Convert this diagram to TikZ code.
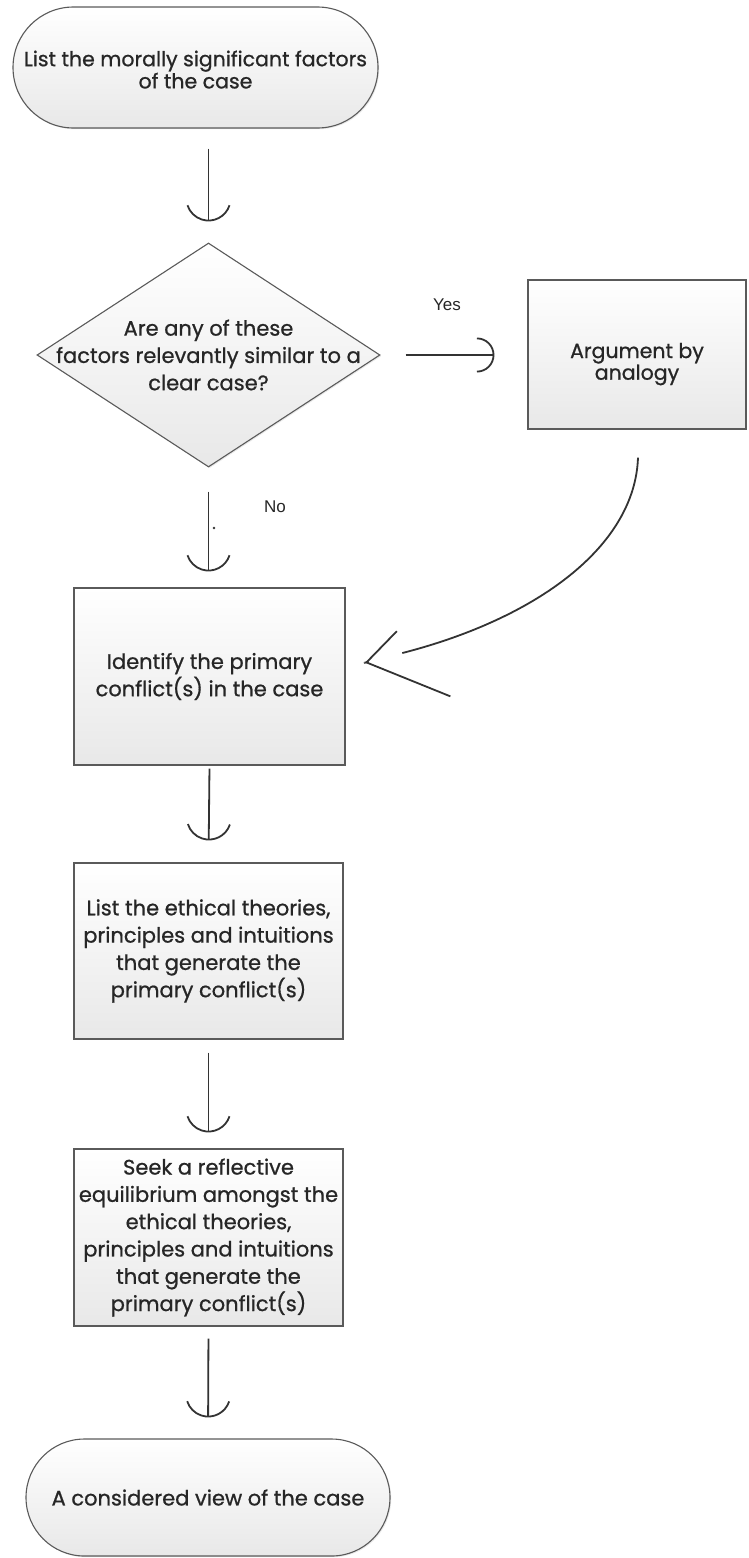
\documentclass[tikz,border=0pt]{standalone}
\usepackage{fontspec}
\setmainfont{Poppins}[FakeBold=0.8]
\newfontfamily\labelfont{Liberation Sans}
\usepackage{tikz}
\usetikzlibrary{arrows.meta}
\usetikzlibrary{shapes.geometric,shapes.misc}
\usetikzlibrary{calc}
\usetikzlibrary{shadows}

\definecolor{inkgray}{HTML}{333333}
\definecolor{rimgray}{HTML}{5A5A5A}
\definecolor{txtgray}{HTML}{262626}

\begin{document}
\begin{tikzpicture}[x=1pt,y=-1pt,
  box/.style={draw=rimgray,line width=1.1pt,top color=white,bottom color=black!9,
    drop shadow={opacity=.18,shadow xshift=1.2pt,shadow yshift=-1.2pt},
    text=txtgray,align=center,inner sep=0pt},
  body/.style={font=\fontsize{21}{27.3}\selectfont},
  tight/.style={font=\fontsize{20.5}{20.5}\selectfont},
  terminal/.style={box,rounded rectangle},
  process/.style={box,rectangle},
  decision/.style={box,diamond,aspect=1.53,inner xsep=-30pt,inner ysep=-20pt},
  flow/.style={draw=inkgray,line width=1.8pt,-{Arc Barb[length=23pt,width=46pt,arc=144]}},
  sweep/.style={draw=inkgray,line width=1.8pt},
  barbshort/.style={draw=inkgray,line width=1.8pt,-{Straight Barb[length=37pt,width=45pt,right]}},
  barblong/.style={draw=inkgray,line width=1.8pt,-{Straight Barb[length=73pt,width=108pt,left]}},
  yesno/.style={font=\labelfont\fontsize{17}{17}\selectfont,text=txtgray}]
 	\useasboundingbox (0,0) rectangle (748,1558);
 	% shapes
 	\node[terminal,tight,minimum width=365pt,minimum height=121pt,text height=42pt] (start) at (195.5,67.5) {List the morally significant factors\\of the case};
 	\node[decision,body,minimum width=343pt,minimum height=224pt] (decide) at (208.5,355) {Are any of these\\factors relevantly similar to a\\clear case?};
 	\node[process,tight,minimum width=218pt,minimum height=149pt,text height=56pt] (argue) at (637,354.5) {Argument by\\analogy};
 	\node[process,body,minimum width=271pt,minimum height=177pt] (identify) at (209.5,676.5) {Identify the primary\\conflict(s) in the case};
 	\node[process,body,minimum width=269pt,minimum height=176pt] (theories) at (208.5,951) {List the ethical theories,\\principles and intuitions\\that generate the\\primary conflict(s)};
 	\node[process,body,minimum width=269pt,minimum height=177pt] (seek) at (208.5,1237.5) {Seek a reflective\\equilibrium amongst the\\ethical theories,\\principles and intuitions\\that generate the\\primary conflict(s)};
 	\node[terminal,body,minimum width=364pt,minimum height=117pt] (finish) at (208,1497.5) {A considered view of the case};
 	% labels
 	\node[yesno] (yes) at (447,305) {Yes};
 	\node[yesno] (no) at (275,507) {No};
 	\fill[inkgray] (214,528) circle (1.3pt);
 	% arrows
 	\draw[flow,shorten <=20pt,shorten >=21pt] (start.south -| decide.north) -- (decide.north);
 	\draw[flow,-{Arc Barb[length=17.5pt,width=35pt,arc=180]},shorten <=25pt,shorten >=33pt] (decide.east) -- (decide.east -| argue.west);
 	\draw[flow,shorten <=24pt,shorten >=16pt] (decide.south) -- (decide.south |- identify.north);
 	\draw[flow,shorten <=3pt,shorten >=22pt] (identify.south) -- (theories.north);
 	\draw[flow,shorten <=13pt,shorten >=16pt] (theories.south) -- (seek.north);
 	\draw[flow,shorten <=12pt,shorten >=21pt] (seek.south) -- (finish.north);
 	\draw[sweep,shorten >=40pt]
 		($(argue.south)+(1,28)$) .. controls +(-3,88) and +(175,-45) .. ($(identify.east)+(18,-13.5)$);
 	\draw[barbshort] ($(identify.east)+(22.84,-14.75)$) -- ($(identify.east)+(18,-13.5)$);
 	\draw[barblong] ($(identify.east)+(22.84,-14.75)$) -- ($(identify.east)+(18,-13.5)$);
\end{tikzpicture}
\end{document}
